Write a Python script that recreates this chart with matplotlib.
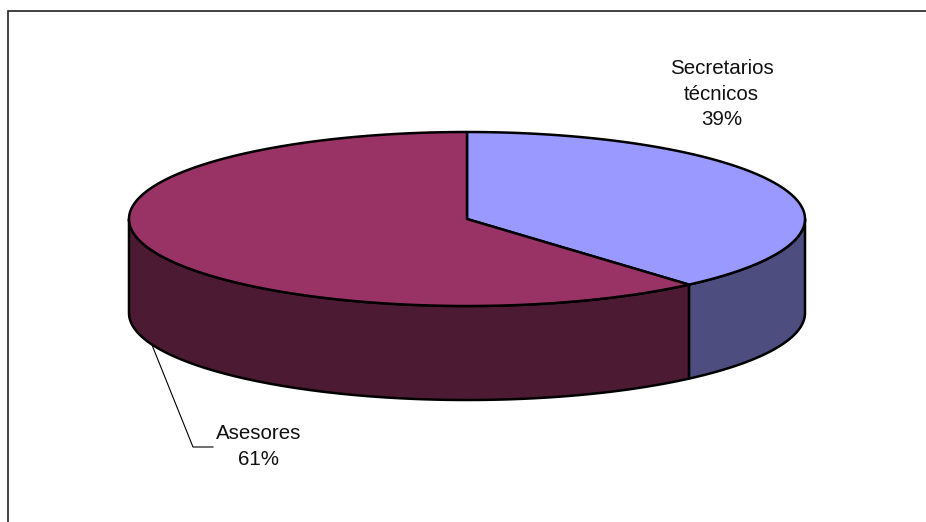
import numpy as np
import matplotlib
matplotlib.use("Agg")
import matplotlib.pyplot as plt
from matplotlib.patches import Polygon

categories = ["Secretarios\ntécnicos", "Asesores"]
values = [38.6, 61.4]
top_colors = ["#9999FF", "#993366"]
side_colors = ["#4D4D80", "#4D1A33"]

W, H = 926, 522
CX, CY, RX, RY, DEPTH = 467, 219, 338, 87, 94

plt.rcParams["font.family"] = ["Liberation Sans", "DejaVu Sans"]
fig = plt.figure(figsize=(W / 100, H / 100), dpi=100, facecolor="white")
ax = fig.add_axes([0, 0, 1, 1])
ax.set_xlim(0, W)
ax.set_ylim(H, 0)
ax.axis("off")

def rim(a0, a1, n=300):
    t = np.linspace(a0, a1, n)
    return CX + RX * np.sin(t), CY - RY * np.cos(t)

# frame
ax.plot([8.2, 8.2, W], [H, 10.6, 10.6], color="#222222", lw=1.2, solid_joinstyle="miter", zorder=1)

fracs = np.array(values) / sum(values)
edges = np.concatenate([[0], np.cumsum(fracs)]) * 2 * np.pi
EDGE = dict(edgecolor="black", lw=1.8, joinstyle="round")

# sides: only the part of each slice facing the viewer (angles pi/2..3pi/2)
for i in range(len(values)):
    a0 = max(edges[i], np.pi / 2)
    a1 = min(edges[i + 1], 3 * np.pi / 2)
    if a1 > a0:
        x, y = rim(a0, a1)
        pts = np.r_[np.c_[x, y], np.c_[x[::-1], y[::-1] + DEPTH]]
        ax.add_patch(Polygon(pts, closed=True, facecolor=side_colors[i], zorder=2, **EDGE))

# tops
for i in range(len(values)):
    x, y = rim(edges[i], edges[i + 1])
    pts = np.r_[[[CX, CY]], np.c_[x, y]]
    ax.add_patch(Polygon(pts, closed=True, facecolor=top_colors[i], zorder=3, **EDGE))

# labels
pct = [f"{v:.0f}%" for v in values]
ax.text(721.5, 94, f"{categories[0]}\n{pct[0]}", ha="center", va="center",
        fontsize=14.8, linespacing=1.42, color="#111111", zorder=5)
ax.text(258.5, 446.5, f"{categories[1]}\n{pct[1]}", ha="center", va="center",
        fontsize=14.8, linespacing=1.42, color="#111111", zorder=5)
ax.plot([152, 193, 213], [345, 447, 447], color="black", lw=0.8, zorder=1)

fig.savefig("out.png", dpi=100, facecolor="white")
